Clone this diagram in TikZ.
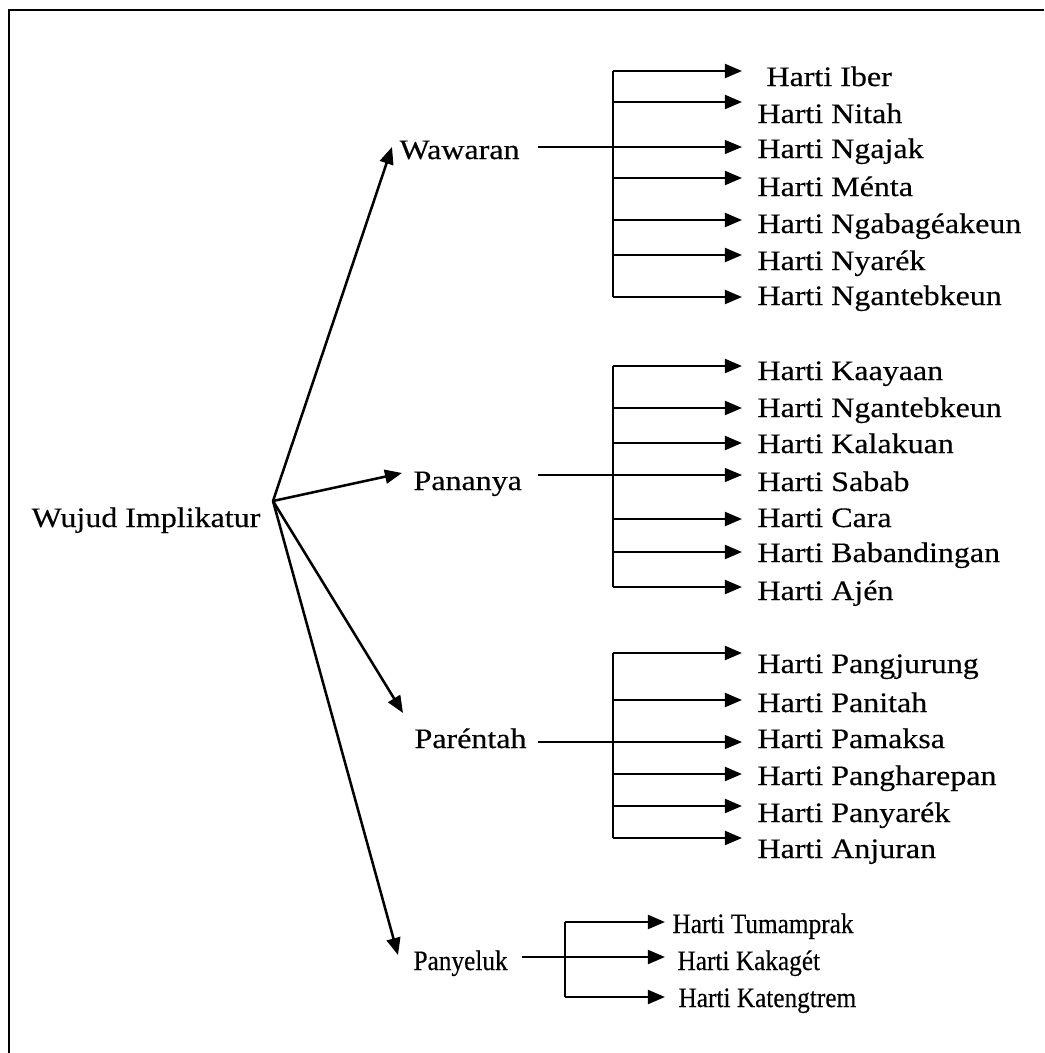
\documentclass[tikz,border=0pt]{standalone}
\usepackage{fontspec}
\setmainfont{Liberation Serif}[FakeBold=0.35, FakeStretch=1.136]
\newfontfamily\sempit{Liberation Serif}[FakeBold=0.35, FakeStretch=0.898]
\usetikzlibrary{arrows.meta}
\tikzset{
  panah/.style={line width=0.95pt, -{Triangle[length=6.4pt,width=5.2pt]}},
  panahtipis/.style={line width=0.55pt, -{Triangle[length=6.4pt,width=5.2pt]}},
  garis/.style={line width=0.95pt},
  garistipis/.style={line width=0.55pt},
  teks/.style={anchor=base west, inner sep=0pt, font=\fontsize{10.56pt}{12.5pt}\selectfont},
  tekssempit/.style={teks, font=\sempit\fontsize{10.56pt}{12.5pt}\selectfont}
}
\begin{document}
\begin{tikzpicture}[x=0.375pt, y=-0.375pt]
    \useasboundingbox (0,0) rectangle (1044,1053);
    \draw[garis] (9,1053) -- (9,10) -- (1044,10);
    % akar
    \node[teks] (wujud) at (31,527) {Wujud Implikatur};
    \coordinate (puncak) at (273,501);
    \coordinate (ujungA) at (742,0);
    \coordinate (ujungB) at (665,0);
    % cabang utama
    \node[teks] (wawaran) at (399,159) {Wawaran};
    \node[teks] (pananya) at (413,490) {Pananya};
    \node[teks] (parentah) at (414,748) {Paréntah};
    \node[tekssempit] (panyeluk) at (413,970) {Panyeluk};
    \coordinate (kaWawaran) at (392,147);
    \coordinate (kaPananya) at (402,473);
    \coordinate (kaParentah) at (403,713);
    \coordinate (kaPanyeluk) at (398,955);
    \draw[panah] (puncak) -- (kaWawaran);
    \draw[panah] (puncak) -- (kaPananya);
    \draw[panah] (puncak) -- (kaParentah);
    \draw[panah] (puncak) -- (kaPanyeluk);
    % Wawaran
    \coordinate (wa) at (538,147);
    \coordinate (w1) at (613,71);
    \coordinate (w2) at (613,102);
    \coordinate (w3) at (613,147);
    \coordinate (w4) at (613,178);
    \coordinate (w5) at (613,220);
    \coordinate (w6) at (613,255);
    \coordinate (w7) at (613,297);
    \draw[garis] (w1) -- (w7);
    \draw[panahtipis] (wa) -- (wa -| ujungA);
    \draw[panah] (w1) -- (w1 -| ujungA);
    \draw[panah] (w2) -- (w2 -| ujungA);
    \draw[panah] (w4) -- (w4 -| ujungA);
    \draw[panah] (w5) -- (w5 -| ujungA);
    \draw[panah] (w6) -- (w6 -| ujungA);
    \draw[panah] (w7) -- (w7 -| ujungA);
    \node[teks] (hw1) at (766,86) {Harti Iber};
    \node[teks] (hw2) at (757,123) {Harti Nitah};
    \node[teks] (hw3) at (757,158) {Harti Ngajak};
    \node[teks] (hw4) at (757,196) {Harti Ménta};
    \node[teks] (hw5) at (757,233) {Harti Ngabagéakeun};
    \node[teks] (hw6) at (757,270) {Harti Nyarék};
    \node[teks] (hw7) at (757,305) {Harti Ngantebkeun};
    % Pananya
    \coordinate (pa) at (538,475);
    \coordinate (p1) at (613,366);
    \coordinate (p2) at (613,408);
    \coordinate (p3) at (613,443);
    \coordinate (p4) at (613,475);
    \coordinate (p5) at (613,519);
    \coordinate (p6) at (613,552);
    \coordinate (p7) at (613,587);
    \draw[garis] (p1) -- (p7);
    \draw[panahtipis] (pa) -- (pa -| ujungA);
    \draw[panah] (p1) -- (p1 -| ujungA);
    \draw[panah] (p2) -- (p2 -| ujungA);
    \draw[panah] (p3) -- (p3 -| ujungA);
    \draw[panah] (p5) -- (p5 -| ujungA);
    \draw[panah] (p6) -- (p6 -| ujungA);
    \draw[panah] (p7) -- (p7 -| ujungA);
    \node[teks] (hp1) at (757,380) {Harti Kaayaan};
    \node[teks] (hp2) at (757,417) {Harti Ngantebkeun};
    \node[teks] (hp3) at (757,453) {Harti Kalakuan};
    \node[teks] (hp4) at (757,491) {Harti Sabab};
    \node[teks] (hp5) at (757,527) {Harti Cara};
    \node[teks] (hp6) at (757,562) {Harti Babandingan};
    \node[teks] (hp7) at (757,600) {Harti Ajén};
    % Parentah
    \coordinate (ra) at (538,742);
    \coordinate (r1) at (613,653);
    \coordinate (r2) at (613,700);
    \coordinate (r3) at (613,742);
    \coordinate (r4) at (613,774);
    \coordinate (r5) at (613,806);
    \coordinate (r6) at (613,838);
    \draw[garis] (r1) -- (r6);
    \draw[panahtipis] (ra) -- (ra -| ujungA);
    \draw[panah] (r1) -- (r1 -| ujungA);
    \draw[panah] (r2) -- (r2 -| ujungA);
    \draw[panah] (r4) -- (r4 -| ujungA);
    \draw[panah] (r5) -- (r5 -| ujungA);
    \draw[panah] (r6) -- (r6 -| ujungA);
    \node[teks] (hr1) at (757,673) {Harti Pangjurung};
    \node[teks] (hr2) at (757,712) {Harti Panitah};
    \node[teks] (hr3) at (757,748) {Harti Pamaksa};
    \node[teks] (hr4) at (757,785) {Harti Pangharepan};
    \node[teks] (hr5) at (757,822) {Harti Panyarék};
    \node[teks] (hr6) at (757,858) {Harti Anjuran};
    % Panyeluk
    \coordinate (ya) at (522,957);
    \coordinate (y1) at (565,922);
    \coordinate (y2) at (565,957);
    \coordinate (y3) at (565,997);
    \draw[garis] (y1) -- (y3);
    \draw[garistipis] (ya) -- (y2);
    \draw[panah] (y1) -- (y1 -| ujungB);
    \draw[panah] (y2) -- (y2 -| ujungB);
    \draw[panah] (y3) -- (y3 -| ujungB);
    \node[tekssempit] (hy1) at (672,933) {Harti Tumamprak};
    \node[tekssempit] (hy2) at (677,970) {Harti Kakagét};
    \node[tekssempit] (hy3) at (678,1007) {Harti Katengtrem};
\end{tikzpicture}
\end{document}
